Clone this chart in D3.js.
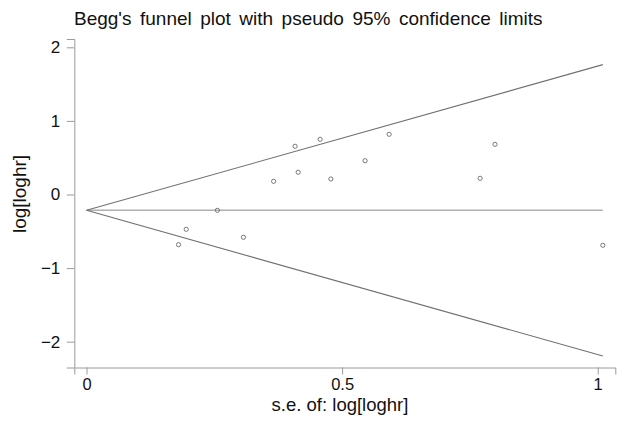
<!DOCTYPE html>
<html>
<head>
<meta charset="utf-8">
<script src="https://cdn.jsdelivr.net/npm/d3@7"></script>
<style>
  html, body { margin: 0; padding: 0; background: #fff; }
  svg { display: block; font-family: "Liberation Sans", Arial, Helvetica, sans-serif; }
</style>
</head>
<body>
<svg id="chart" width="630" height="425"></svg>
<script>
// ---- Data ----
const studySE    = [0.180, 0.195, 0.256, 0.307, 0.366, 0.408, 0.414, 0.457, 0.478, 0.545, 0.592, 0.770, 0.799, 1.010];
const studyLogHR = [-0.682, -0.473, -0.215, -0.582, 0.179, 0.655, 0.302, 0.750, 0.211, 0.459, 0.818, 0.220, 0.682, -0.690];
const funnelSE    = [0, 1.010];
const funnelUpper = [-0.215, 1.765];
const funnelLower = [-0.215, -2.195];
const funnelMid   = [-0.215, -0.215];
const xTicks = [0, 0.5, 1];
const xTickLabels = ["0", "0.5", "1"];
const yTicks = [-2, -1, 0, 1, 2];
const yTickLabels = ["\u22122", "\u22121", "0", "1", "2"];
const titleText = "Begg's funnel plot with pseudo 95% confidence limits";
const xTitle = "s.e. of: log[loghr]";
const yTitle = "log[loghr]";

// ---- Layout ----
const svg = d3.select("#chart");
const x = d3.scaleLinear().domain([-0.0239, 1.0344]).range([74.3, 615.3]);
const y = d3.scaleLinear().domain([-2.351, 2.113]).range([367.5, 39]);

const axisColor = "#9a9a9a";

// Title
svg.append("text")
  .attr("x", 74).attr("y", 24.5)
  .attr("font-size", 19).attr("fill", "#111")
  .attr("word-spacing", 3.2)
  .text(titleText);

// Funnel lines
const line = d3.line().x(d => x(d[0])).y(d => y(d[1]));
svg.append("path")
  .attr("d", line(d3.zip(funnelSE, funnelMid)))
  .attr("fill", "none").attr("stroke", "#b0b0b0").attr("stroke-width", 1.6);
svg.append("path")
  .attr("d", line(d3.zip(funnelSE, funnelUpper)))
  .attr("fill", "none").attr("stroke", "#707070").attr("stroke-width", 1.1);
svg.append("path")
  .attr("d", line(d3.zip(funnelSE, funnelLower)))
  .attr("fill", "none").attr("stroke", "#707070").attr("stroke-width", 1.1);

// Points
svg.append("g").selectAll("circle")
  .data(d3.zip(studySE, studyLogHR))
  .join("circle")
  .attr("cx", d => x(d[0])).attr("cy", d => y(d[1]))
  .attr("r", 2.1)
  .attr("fill", "none").attr("stroke", "#6a6a6a").attr("stroke-width", 0.9);

// Y axis
const yAxis = d3.axisLeft(y).tickValues(yTicks)
  .tickFormat((d, i) => yTickLabels[i]).tickSizeOuter(0).tickSize(7.5).tickPadding(6.5);
const gy = svg.append("g").attr("transform", "translate(74.3,0)").call(yAxis);
gy.select(".domain").attr("stroke", axisColor);
gy.selectAll(".tick line").attr("stroke", axisColor);
gy.selectAll(".tick text").attr("font-size", 17).attr("fill", "#111")
  .attr("font-family", "Liberation Sans, Arial, sans-serif");

// X axis
const xAxis = d3.axisBottom(x).tickValues(xTicks)
  .tickFormat((d, i) => xTickLabels[i]).tickSizeOuter(0).tickSize(7).tickPadding(3.5);
const gx = svg.append("g").attr("transform", "translate(0,367.5)").call(xAxis);
gx.select(".domain").attr("stroke", axisColor);
gx.selectAll(".tick line").attr("stroke", axisColor);
gx.selectAll(".tick text").attr("font-size", 16.5).attr("fill", "#111")
  .attr("font-family", "Liberation Sans, Arial, sans-serif");

// Axis titles
svg.append("text")
  .attr("x", 340).attr("y", 410.5)
  .attr("text-anchor", "middle")
  .attr("font-size", 18.5).attr("fill", "#111")
  .text(xTitle);
svg.append("text")
  .attr("transform", "translate(26,194) rotate(-90)")
  .attr("text-anchor", "middle")
  .attr("font-size", 19).attr("fill", "#111")
  .text(yTitle);
</script>
</body>
</html>
